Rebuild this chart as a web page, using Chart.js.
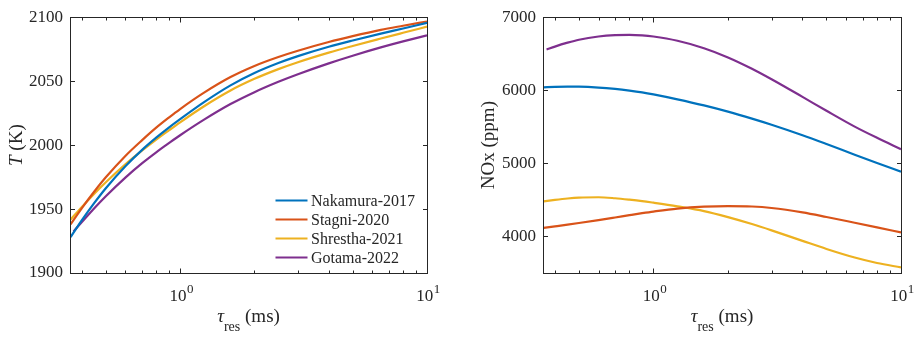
<!DOCTYPE html>
<html><head><meta charset="utf-8">
<script src="https://cdn.jsdelivr.net/npm/chart.js@4.4.1/dist/chart.umd.min.js"></script>
<style>
html,body{margin:0;padding:0;background:#fff;}
#wrap{position:relative;width:915px;height:337px;overflow:hidden;}
#c1{position:absolute;left:0;top:0;}
#c2{position:absolute;left:460px;top:0;}
</style></head><body>
<div id="wrap">
<canvas id="c1" width="460" height="337"></canvas>
<canvas id="c2" width="455" height="337"></canvas>
</div>
<script>
// ---------------- data ----------------
const seriesNames = ['Nakamura-2017', 'Stagni-2020', 'Shrestha-2021', 'Gotama-2022'];
const tau        = [0.36, 0.4, 0.45, 0.5, 0.6, 0.7, 0.8, 0.9, 1, 1.25, 1.6, 2, 2.5, 3, 4, 5, 6.5, 8, 10];
const tauGotama  = [0.37, 0.4, 0.45, 0.5, 0.6, 0.7, 0.8, 0.9, 1, 1.25, 1.6, 2, 2.5, 3, 4, 5, 6.5, 8, 10];

// Temperature (K)
const T_Nakamura = [1928, 1941.3, 1955.0, 1966.3, 1983.5, 1996.1, 2005.8, 2013.7, 2020.3, 2033.6, 2046.7, 2056.4, 2064.2, 2069.6, 2076.9, 2081.8, 2087.2, 2091.2, 2095.6];
const T_Stagni   = [1938, 1950.7, 1963.9, 1974.8, 1991.5, 2003.7, 2013.6, 2021.5, 2028.2, 2041.0, 2053.2, 2061.9, 2068.9, 2073.8, 2080.6, 2085.2, 2090.1, 2093.3, 2096.6];
const T_Shrestha = [1941.8, 1951.7, 1962.2, 1971.0, 1984.9, 1995.6, 2004.3, 2011.5, 2017.8, 2030.4, 2042.7, 2051.8, 2059.4, 2064.8, 2072.3, 2077.5, 2083.3, 2087.8, 2092.6];
const T_Gotama   = [1932.5, 1939.8, 1950.8, 1960.0, 1974.6, 1985.7, 1994.4, 2001.5, 2007.7, 2019.9, 2032.1, 2041.4, 2049.5, 2055.4, 2063.9, 2069.9, 2076.4, 2081.1, 2085.8];

// NOx (ppm)
const NOx_Nakamura = [6040, 6046.9, 6050.5, 6049.6, 6037.7, 6018.9, 5996.3, 5971.8, 5944.2, 5876.3, 5792.8, 5707.4, 5612.3, 5528.6, 5384.8, 5264.5, 5118.6, 5005.2, 4885.9];
const NOx_Stagni   = [4117, 4138.2, 4162.2, 4184.5, 4224.4, 4259.9, 4291.2, 4318.2, 4340.7, 4381.4, 4407.1, 4415.8, 4410.0, 4389.5, 4329.5, 4266.4, 4187.7, 4124.7, 4055.8];
const NOx_Shrestha = [4480, 4500.2, 4519.6, 4531.6, 4536.3, 4522.9, 4503.8, 4483.9, 4461.8, 4411.4, 4347.2, 4264.7, 4169.6, 4083.5, 3939.7, 3829.1, 3711.7, 3637.0, 3576.9];
const NOx_Gotama   = [6557, 6597.8, 6651.4, 6691.9, 6736.1, 6754.9, 6759.0, 6751.9, 6735.8, 6677.6, 6575.9, 6449.8, 6294.6, 6150.8, 5909.5, 5719.4, 5502.8, 5349.8, 5194.6];

const xTicks = [0.4, 0.5, 0.6, 0.7, 0.8, 0.9, 1, 2, 3, 4, 5, 6, 7, 8, 9, 10];
const xMajor = [1, 10];
const yTicksT = [1900, 1950, 2000, 2050, 2100];
const yTicksNOx = [4000, 5000, 6000, 7000];

// ---------------- style ----------------
const colors = ['#0072BD', '#D95319', '#EDB120', '#7E2F8E'];
const INK = '#262626';
const FONT = "'Liberation Serif', 'Times New Roman', serif";

const matlabPlugin = {
  id: 'matlab',
  afterDatasetsDraw(chart, args, opts) {
    const ctx = chart.ctx, a = chart.chartArea;
    const xs = chart.scales.x, ys = chart.scales.y;
    ctx.save();
    // legend
    if (opts.legend) {
      const L = opts.legend;
      ctx.font = '16px ' + FONT;
      ctx.textBaseline = 'middle';
      ctx.textAlign = 'left';
      chart.data.datasets.forEach((ds, i) => {
        const y = L.y + i * L.dy;
        ctx.strokeStyle = ds.borderColor;
        ctx.lineWidth = 2.2;
        ctx.beginPath();
        ctx.moveTo(L.x, y); ctx.lineTo(L.x + L.len, y);
        ctx.stroke();
        ctx.fillStyle = INK;
        ctx.fillText(ds.label, L.x + L.len + 3.5, y + 1);
      });
    }
    // frame
    ctx.strokeStyle = INK;
    ctx.lineWidth = 1;
    const l = Math.round(a.left) + 0.5, t = Math.round(a.top) + 0.5;
    const r = Math.round(a.right) + 0.5, b = Math.round(a.bottom) + 0.5;
    ctx.strokeRect(l, t, r - l, b - t);
    // inward ticks
    ctx.beginPath();
    xTicks.forEach(v => {
      const px = Math.round(xs.getPixelForValue(v)) + 0.5;
      const len = xMajor.includes(v) ? 5 : 3;
      ctx.moveTo(px, b); ctx.lineTo(px, b - len);
      ctx.moveTo(px, t); ctx.lineTo(px, t + len);
    });
    opts.yTicks.forEach(v => {
      const py = Math.round(ys.getPixelForValue(v)) + 0.5;
      ctx.moveTo(l, py); ctx.lineTo(l + 4.5, py);
      ctx.moveTo(r, py); ctx.lineTo(r - 4.5, py);
    });
    ctx.stroke();
    // x tick labels 10^n
    ctx.fillStyle = INK;
    ctx.textBaseline = 'alphabetic';
    xMajor.forEach(v => {
      const px = xs.getPixelForValue(v);
      const exp = String(Math.round(Math.log10(v)));
      ctx.font = '17px ' + FONT;
      const wb = ctx.measureText('10').width;
      ctx.font = '13px ' + FONT;
      const we = ctx.measureText(exp).width;
      const x0 = px - (wb + we) / 2 + 1;
      ctx.font = '17px ' + FONT;
      ctx.textAlign = 'left';
      ctx.fillText('10', x0, 301);
      ctx.font = '13px ' + FONT;
      ctx.fillText(exp, x0 + wb + 0.5, 293);
    });
    // x title: tau_res (ms)
    {
      ctx.font = 'italic 19px ' + FONT;
      const wt = ctx.measureText('\u03C4').width;
      ctx.font = '14px ' + FONT;
      const ws = ctx.measureText('res').width;
      ctx.font = '19px ' + FONT;
      const wm = ctx.measureText(' (ms)').width;
      const cx = (a.left + a.right) / 2;
      let x0 = cx - (wt + ws + wm) / 2;
      ctx.textAlign = 'left';
      ctx.font = 'italic 19px ' + FONT;
      ctx.fillText('\u03C4', x0, 322);
      ctx.font = '14px ' + FONT;
      ctx.fillText('res', x0 + wt, 331);
      ctx.font = '19px ' + FONT;
      ctx.fillText(' (ms)', x0 + wt + ws, 322);
    }
    // y title
    {
      ctx.translate(opts.yTitleX, (a.top + a.bottom) / 2);
      ctx.rotate(-Math.PI / 2);
      ctx.textBaseline = 'middle';
      const parts = opts.yTitle;
      let w = 0;
      parts.forEach(p => { ctx.font = (p.italic ? 'italic ' : '') + '19px ' + FONT; w += ctx.measureText(p.text).width; });
      let x = -w / 2;
      ctx.textAlign = 'left';
      parts.forEach(p => {
        ctx.font = (p.italic ? 'italic ' : '') + '19px ' + FONT;
        ctx.fillText(p.text, x, 0);
        x += ctx.measureText(p.text).width;
      });
    }
    ctx.restore();
  }
};

function buildDatasets(xsList, ysList) {
  return ysList.map((ys, i) => ({
    label: seriesNames[i],
    data: ys.map((y, j) => ({ x: xsList[i][j], y })),
    borderColor: colors[i],
    borderWidth: 2.2,
    pointRadius: 0,
    fill: false,
    cubicInterpolationMode: 'monotone'
  }));
}

function makeChart(id, cfg) {
  return new Chart(document.getElementById(id), {
    type: 'line',
    data: { datasets: buildDatasets(cfg.xs, cfg.ys) },
    options: {
      responsive: false,
      animation: false,
      devicePixelRatio: 1,
      layout: { padding: { top: 13, right: cfg.padRight, left: 0, bottom: 0 } },
      plugins: {
        legend: { display: false },
        tooltip: { enabled: false },
        matlab: { legend: cfg.legend, yTicks: cfg.yTicks, yTitle: cfg.yTitle, yTitleX: cfg.yTitleX }
      },
      scales: {
        x: {
          type: 'logarithmic', min: 0.358, max: 10,
          afterBuildTicks: s => { s.ticks = xTicks.map(v => ({ value: v })); },
          afterFit: s => { s.height = 64; },
          ticks: { display: false },
          grid: { display: false },
          border: { display: false }
        },
        y: {
          type: 'linear', min: cfg.yMin, max: cfg.yMax,
          afterBuildTicks: s => { s.ticks = cfg.yTicks.map(v => ({ value: v })); },
          afterFit: s => { s.width = cfg.yWidth; },
          ticks: { color: INK, font: { family: FONT, size: 17 }, padding: 7, callback: v => String(v) },
          grid: { display: false, drawTicks: false },
          border: { display: false }
        }
      }
    },
    plugins: [matlabPlugin]
  });
}

makeChart('c1', {
  xs: [tau, tau, tau, tauGotama],
  ys: [T_Nakamura, T_Stagni, T_Shrestha, T_Gotama],
  yMin: 1900, yMax: 2100, yTicks: yTicksT,
  yWidth: 70, padRight: 33,
  yTitle: [{ text: 'T', italic: true }, { text: ' (K)' }], yTitleX: 17,
  legend: { x: 275.5, y: 200.5, dy: 19, len: 32 }
});

makeChart('c2', {
  xs: [tau, tau, tau, tauGotama],
  ys: [NOx_Nakamura, NOx_Stagni, NOx_Shrestha, NOx_Gotama],
  yMin: 3500, yMax: 7000, yTicks: yTicksNOx,
  yWidth: 83, padRight: 14,
  yTitle: [{ text: 'NOx (ppm)' }], yTitleX: 29,
  legend: null
});
</script>
</body></html>
